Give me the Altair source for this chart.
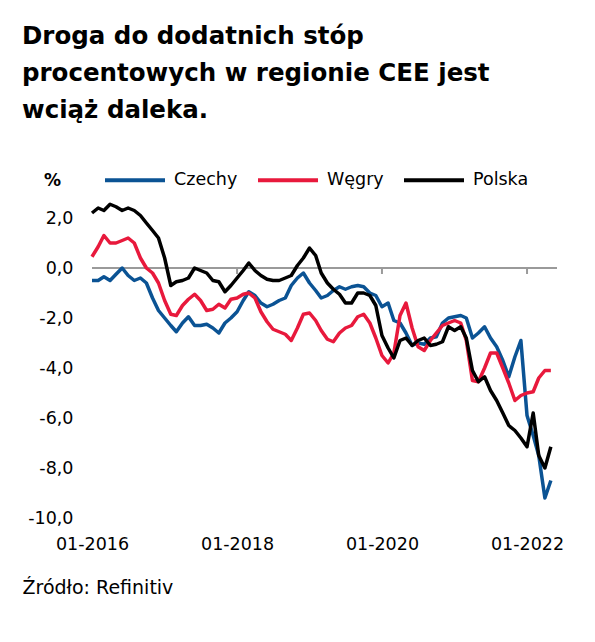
import altair as alt
import pandas as pd

months = pd.date_range("2016-01-01", periods=77, freq="MS").strftime("%Y-%m-%dT00:00:00").tolist()

czechy = [-0.5, -0.5, -0.35, -0.5, -0.25, 0.0, -0.3, -0.5, -0.4, -0.6,
          -1.2, -1.7, -2.0, -2.3, -2.55, -2.2, -1.95, -2.3, -2.3, -2.25,
          -2.4, -2.6, -2.2, -2.0, -1.75, -1.3, -0.95, -1.1, -1.4, -1.55,
          -1.45, -1.3, -1.2, -0.7, -0.4, -0.2, -0.6, -0.9, -1.2, -1.1,
          -0.9, -0.75, -0.85, -0.75, -0.7, -0.75, -1.0, -1.1, -1.55, -1.4,
          -2.1, -2.2, -2.6, -3.1, -3.0, -3.05, -2.8, -2.75, -2.2, -2.0,
          -1.95, -1.9, -2.0, -2.8, -2.6, -2.35, -2.8, -3.15, -3.7, -4.35,
          -3.55, -2.9, -5.9, -6.7, -7.5, -9.2, -8.5]

wegry = [0.45, 0.85, 1.3, 1.0, 1.0, 1.1, 1.2, 1.0, 0.4, 0.0,
         -0.2, -0.6, -1.3, -1.85, -1.9, -1.5, -1.25, -1.05, -1.3, -1.7,
         -1.65, -1.45, -1.6, -1.25, -1.2, -1.05, -1.0, -1.2, -1.75, -2.15,
         -2.45, -2.55, -2.65, -2.9, -2.4, -1.85, -1.8, -2.1, -2.5, -2.85,
         -2.95, -2.6, -2.4, -2.3, -1.95, -1.85, -2.2, -2.8, -3.5, -3.8,
         -3.4, -1.9, -1.4, -2.4, -3.15, -3.3, -2.9, -2.6, -2.3, -2.2,
         -2.1, -2.2, -2.9, -4.5, -4.55, -4.0, -3.4, -3.4, -4.0, -4.6,
         -5.3, -5.1, -5.0, -4.95, -4.4, -4.1, -4.1]

polska = [2.2, 2.4, 2.3, 2.55, 2.45, 2.3, 2.4, 2.3, 2.1, 1.8,
          1.5, 1.2, 0.4, -0.7, -0.55, -0.5, -0.4, 0.0, -0.1, -0.2,
          -0.5, -0.55, -0.95, -0.7, -0.4, -0.1, 0.2, -0.1, -0.3, -0.45,
          -0.5, -0.5, -0.4, -0.3, 0.1, 0.4, 0.8, 0.5, -0.2, -0.6,
          -0.85, -1.05, -1.4, -1.4, -1.0, -1.0, -1.1, -1.5, -2.7, -3.2,
          -3.6, -2.9, -2.8, -3.1, -2.9, -2.8, -3.1, -3.05, -2.95, -2.35,
          -2.5, -2.35, -2.8, -4.1, -4.55, -4.35, -4.9, -5.3, -5.8, -6.3,
          -6.5, -6.8, -7.15, -5.8, -7.5, -8.0, -7.15]

series_names = ["Czechy", "Węgry", "Polska"]
series_colors = ["#0B5394", "#E8193C", "#000000"]
tick_dates = ["2018-01-01T00:00:00", "2020-01-01T00:00:00", "2022-01-01T00:00:00"]
y_ticks = [-10, -8, -6, -4, -2, 0, 2]

rows = []
for name, vals in zip(series_names, [czechy, wegry, polska]):
    for d, v in zip(months, vals):
        rows.append({"data": d, "seria": name, "wartosc": v})
df = pd.DataFrame(rows)

FONT = "DejaVu Sans"

x_enc = alt.X(
    "data:T",
    scale=alt.Scale(domain=[alt.DateTime(year=2016, month=1, date=1),
                            alt.DateTime(year=2022, month=6, date=1)]),
    axis=alt.Axis(
        values=[alt.DateTime(year=y, month=1, date=1) for y in [2016, 2018, 2020, 2022]],
        format="%m-%Y", labelFontSize=17.5, labelFont=FONT, labelColor="#000",
        labelFlush=False, labelOverlap=False,
        domain=False, ticks=False, grid=False, labelPadding=17,
        title="Źródło: Refinitiv", titleFont=FONT, titleFontSize=19,
        titleFontWeight="normal", titleColor="#000", titleAnchor="start",
        titleAlign="left", titleX=-70, titleY=75, titleBaseline="alphabetic",
    ),
)

label_expr = "replace(replace(format(datum.value, '.1f'), '.', ','), '\u2212', '-')"

y_enc = alt.Y(
    "wartosc:Q",
    scale=alt.Scale(domain=[-10, 3], nice=False),
    axis=alt.Axis(
        values=y_ticks, labelExpr=label_expr, labelFontSize=17.5, labelFont=FONT,
        labelColor="#000", domain=False, ticks=False, grid=False, labelPadding=19,
        title="%", titleAngle=0, titleX=-40, titleY=-13, titleAlign="center",
        titleBaseline="middle", titleFont=FONT, titleFontSize=17,
        titleFontWeight="bold", titleColor="#000",
    ),
)

lines = alt.Chart(df).mark_line(strokeWidth=3.5, strokeJoin="round").encode(
    x=x_enc,
    y=y_enc,
    color=alt.Color(
        "seria:N",
        scale=alt.Scale(domain=series_names, range=series_colors),
        sort=series_names,
        legend=alt.Legend(
            orient="none", direction="horizontal", legendX=11, legendY=-45,
            title=None, symbolType="stroke", symbolSize=3600, symbolStrokeWidth=4,
            labelFont=FONT, labelFontSize=17.5, labelColor="#000", labelOffset=7,
            columnPadding=12, padding=0,
        ),
    ),
    detail="seria:N",
)

zero = alt.Chart(pd.DataFrame({"v": [0]})).mark_rule(color="#9a9a9a", strokeWidth=2).encode(
    y=alt.Y("v:Q")
)

ticks = alt.Chart(pd.DataFrame({"data": tick_dates, "y0": [0] * 3, "y1": [-0.24] * 3})).mark_rule(
    color="#9a9a9a", strokeWidth=2
).encode(x="data:T", y="y0:Q", y2="y1:Q")

chart = alt.layer(zero, ticks, lines).properties(
    width=465,
    height=325,
    padding={"left": 84, "top": 185, "right": 30, "bottom": 100},
    autosize=alt.AutoSizeParams(type="none"),
    title=alt.TitleParams(
        text=["Droga do dodatnich stóp", "procentowych w regionie CEE jest", "wciąż daleka."],
        anchor="start", frame="group", dx=-70, offset=25, fontSize=24.5, font=FONT,
        fontWeight="bold", lineHeight=37, color="#000",
    ),
).configure_view(stroke=None)

chart.save("out.html", embed_options={"renderer": "svg", "actions": False})
